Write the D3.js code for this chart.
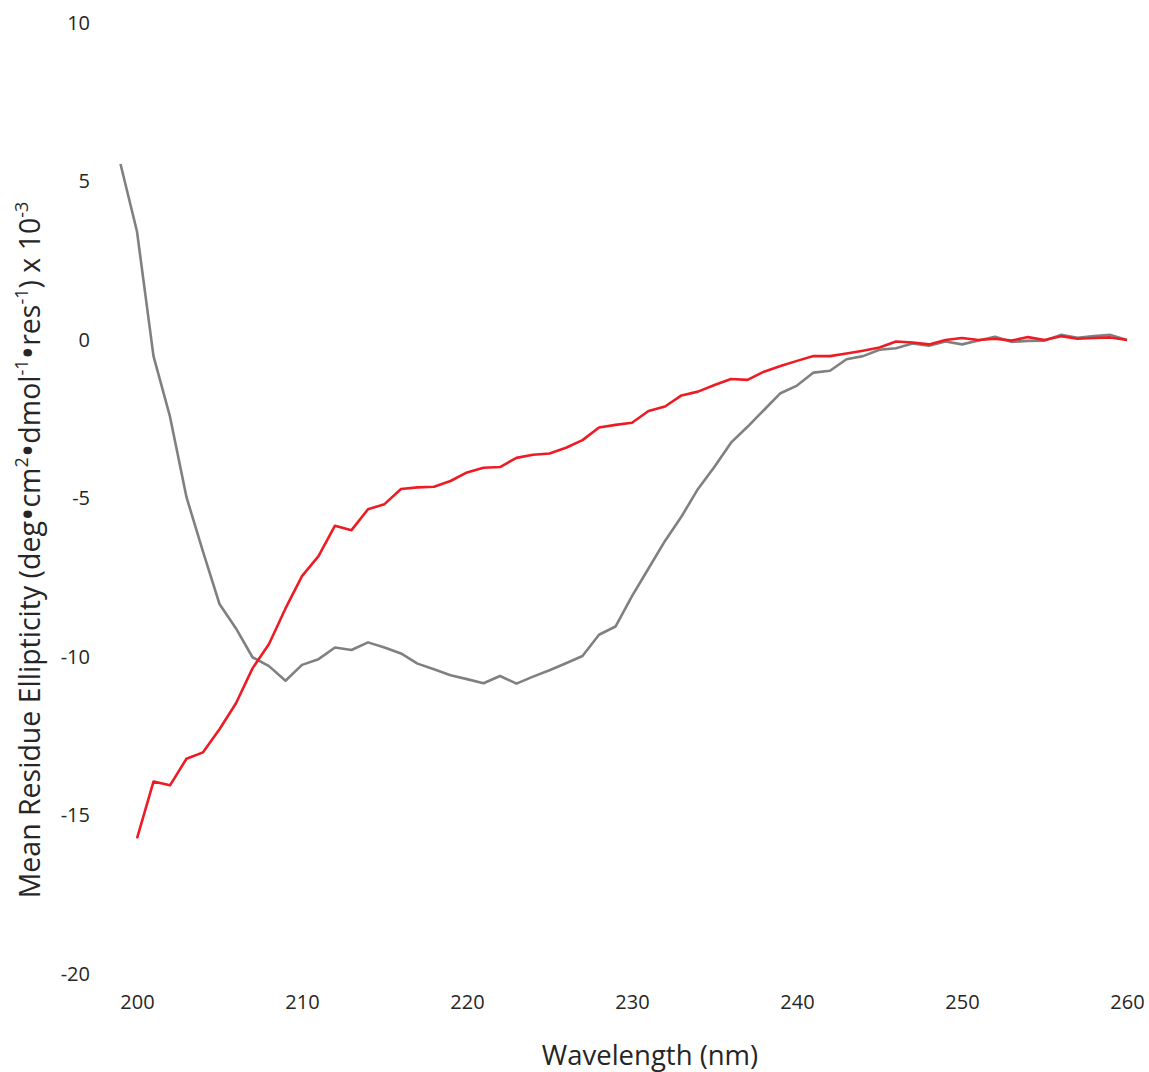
<!DOCTYPE html>
<html>
<head>
<meta charset="utf-8">
<script src="https://cdn.jsdelivr.net/npm/d3@7"></script>
<style>
  html, body { margin: 0; padding: 0; background: #fff; }
  svg { display: block; }
  text { font-family: "Open Sans", "Noto Sans", sans-serif; fill: #262626; }
</style>
</head>
<body>
<svg id="chart" width="1149" height="1072"></svg>
<script>
const wavelengthsGray = d3.range(199, 261);
const wavelengthsRed = d3.range(200, 261);

const grayValues = [
  5.52, 3.39, -0.54, -2.45, -4.99, -6.71, -8.36, -9.13, -10.04, -10.32,
  -10.78, -10.28, -10.10, -9.73, -9.81, -9.57, -9.73, -9.92, -10.24, -10.42,
  -10.61, -10.73, -10.86, -10.63, -10.87, -10.65, -10.45, -10.23, -10.00, -9.33,
  -9.07, -8.11, -7.24, -6.37, -5.60, -4.73, -4.03, -3.27, -2.77, -2.24,
  -1.71, -1.47, -1.06, -1.00, -0.64, -0.54, -0.34, -0.29, -0.14, -0.21,
  -0.08, -0.17, -0.05, 0.07, -0.09, -0.06, -0.05, 0.13, 0.04, 0.09,
  0.13, -0.03
];

const redValues = [
  -15.75, -13.96, -14.08, -13.24, -13.04, -12.31, -11.49, -10.39, -9.62, -8.50,
  -7.48, -6.85, -5.89, -6.03, -5.37, -5.21, -4.73, -4.68, -4.66, -4.48,
  -4.21, -4.06, -4.04, -3.75, -3.65, -3.61, -3.43, -3.19, -2.79, -2.71,
  -2.64, -2.27, -2.13, -1.78, -1.66, -1.45, -1.26, -1.29, -1.03, -0.85,
  -0.69, -0.54, -0.54, -0.46, -0.37, -0.27, -0.08, -0.11, -0.17, -0.03,
  0.03, -0.03, 0.01, -0.05, 0.06, -0.03, 0.09, 0.01, 0.03, 0.05,
  -0.03
];

const xTicks = [200, 210, 220, 230, 240, 250, 260];
const yTicks = [-20, -15, -10, -5, 0, 5, 10];

const svg = d3.select("#chart");

const x = d3.scaleLinear().domain([200, 260]).range([137, 1127]);
const y = d3.scaleLinear().domain([-20, 10]).range([973, 22]);

const plainFormat = d => String(d);

// Y tick labels (no axis line)
const yAxis = d3.axisLeft(y).tickValues(yTicks).tickSize(0).tickPadding(0).tickFormat(plainFormat);
const gy = svg.append("g").attr("transform", "translate(90,0)").call(yAxis);
gy.select(".domain").remove();
gy.selectAll("text")
  .attr("font-size", 20)
  .attr("font-family", "Open Sans")
  .attr("fill", "#262626")
  .attr("dy", "0.35em");

// X tick labels
const xAxis = d3.axisBottom(x).tickValues(xTicks).tickSize(0).tickPadding(0).tickFormat(plainFormat);
const gx = svg.append("g").attr("transform", "translate(0,995)").call(xAxis);
gx.select(".domain").remove();
gx.selectAll("text")
  .attr("font-size", 20)
  .attr("font-family", "Open Sans")
  .attr("fill", "#262626")
  .attr("dy", "0.71em");

// Lines
const line = d3.line().x(d => x(d[0])).y(d => y(d[1]));

svg.append("path")
  .datum(wavelengthsGray.map((w, i) => [w, grayValues[i]]))
  .attr("fill", "none")
  .attr("stroke", "#808080")
  .attr("stroke-width", 2.6)
  .attr("stroke-linejoin", "round")
  .attr("d", line);

svg.append("path")
  .datum(wavelengthsRed.map((w, i) => [w, redValues[i]]))
  .attr("fill", "none")
  .attr("stroke", "#ed1c24")
  .attr("stroke-width", 2.6)
  .attr("stroke-linejoin", "round")
  .attr("d", line);

// X axis title
svg.append("text")
  .attr("x", 650)
  .attr("y", 1065)
  .attr("text-anchor", "middle")
  .attr("font-size", 27.5)
  .text("Wavelength (nm)");

// Y axis title with superscripts
const yt = svg.append("text")
  .attr("transform", "translate(40,550) rotate(-90)")
  .attr("text-anchor", "middle")
  .attr("font-size", 28.5);
const parts = [
  ["Mean Residue Ellipticity (deg", false],
  ["\u2022", "dot"],
  ["cm", false],
  ["2", true],
  ["\u2022", "dot"],
  ["dmol", false],
  ["-1", true],
  ["\u2022", "dot"],
  ["res", false],
  ["-1", true],
  [") x 10", false],
  ["-3", true]
];
parts.forEach(([t, kind]) => {
  const ts = yt.append("tspan").text(t);
  if (kind === true) ts.attr("font-size", 18).attr("baseline-shift", "super");
  else if (kind === "dot") ts.attr("font-size", 36).attr("baseline-shift", "-4%");
});
</script>
</body>
</html>
